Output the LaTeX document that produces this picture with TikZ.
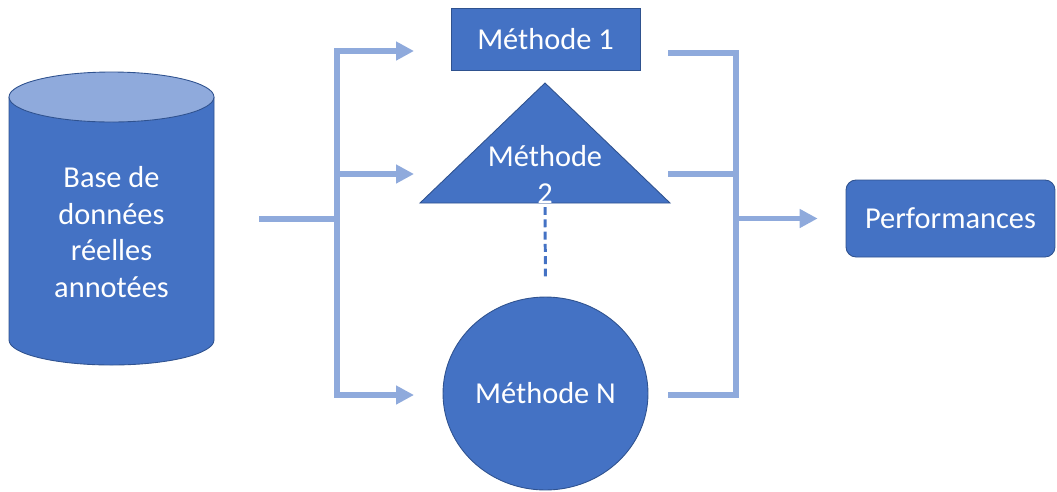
\documentclass[tikz,border=0pt]{standalone}
\usepackage{fontspec}
\setmainfont{Carlito}
\usepackage{tikz}
\usetikzlibrary{positioning,arrows.meta,shapes.geometric}
\usepackage{xcolor}
\definecolor{methblue}{HTML}{4472C4}
\definecolor{edgeblue}{HTML}{2F528F}
\definecolor{linkblue}{HTML}{8FAADC}

\begin{document}
\begin{tikzpicture}[
  x=0.02cm, y=-0.02cm,
  every node/.style={font=\fontsize{17.3}{21}\selectfont, text=white},
  method/.style={draw=edgeblue, line width=0.5pt, fill=methblue, inner sep=0pt},
  txt/.style={align=center, inner sep=0pt},
  link/.style={draw=linkblue, line width=3.4pt},
  arrowlink/.style={link, -{Triangle[length=10.2pt, width=10.2pt]}},
  dashlink/.style={draw=methblue, line width=1.7pt, dash pattern=on 4.5pt off 2.5pt}]

\useasboundingbox (0,0) rectangle (1057,491);

\filldraw[method] (9,97) -- (9,340) arc[start angle=180, end angle=0, x radius=102.5, y radius=25] -- (214,97);
\filldraw[method, fill=linkblue] (111.5,97) ellipse[x radius=102.5, y radius=25];
\node[txt] (base) at (111.5,232) {Base de\\données\\réelles\\annotées};

\node[method, minimum width=3.78cm, minimum height=1.24cm] (m1) at (545.5,39) {Méthode 1};
\filldraw[method] (545,83) -- (670,203) -- (420,203) -- cycle;
\node[txt] (m2) at (545,174) {Méthode\\2};
\node[method, ellipse, minimum width=4.1cm, minimum height=3.86cm] (m3) at (545.5,393.5) {Méthode N};
\node[method, rounded corners=0.2cm, minimum width=4.18cm, minimum height=1.54cm] (perf) at (950.5,218.5) {Performances};

\coordinate (in) at (259,219);
\coordinate (fork) at (337,219);
\coordinate (a1) at (414,51);
\coordinate (a2) at (414,174);
\coordinate (a3) at (414,395);
\coordinate (b1) at (668,53);
\coordinate (b2) at (668,174);
\coordinate (b3) at (668,395);
\coordinate (join) at (736,218.5);
\coordinate (t2) at (545,203);

\draw[link] (in) -- (fork);
\draw[arrowlink] (fork) |- (a1);
\draw[arrowlink] (fork) |- (a2);
\draw[arrowlink] (fork) |- (a3);
\draw[link] (b1) -| (join);
\draw[link] (b2) -| (join);
\draw[link] (b3) -| (join);
\draw[arrowlink, shorten >=15.9pt] (join) -- (perf.west);
\draw[dashlink, shorten <=2.3pt, shorten >=9.7pt] (t2) -- (m3.north);

\end{tikzpicture}
\end{document}
